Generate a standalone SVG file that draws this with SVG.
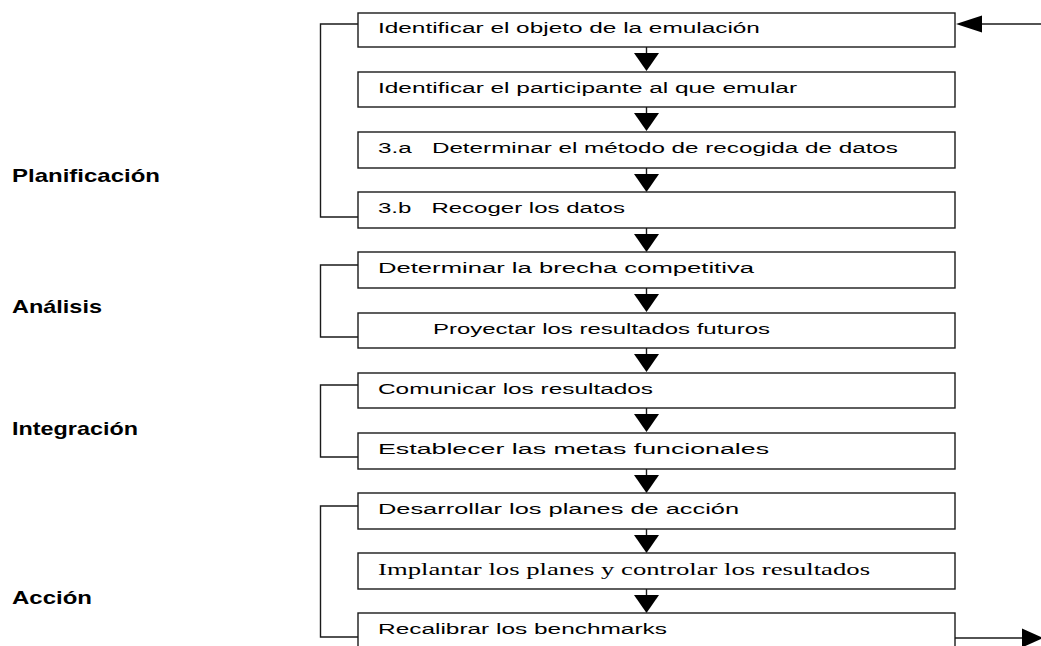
<svg xmlns="http://www.w3.org/2000/svg" width="1041" height="646" viewBox="0 0 1041 646">
  <style>
    .box { fill: #ffffff; stroke: #1a1a1a; stroke-width: 1.4; }
    .t { font-family: "Liberation Sans", Arial, sans-serif; font-size: 15px; fill: #000; }
    .ts { font-family: "Liberation Serif", "Times New Roman", serif; font-size: 16px; fill: #000; }
    .lbl { font-family: "Liberation Sans", Arial, sans-serif; font-size: 18.5px; font-weight: bold; fill: #000; }
    .ln { fill: none; stroke: #1a1a1a; stroke-width: 1.4; }
    .head { fill: #000; stroke: none; }
  </style>
  <defs>
    <!-- downward arrow between consecutive steps: short stem + filled triangle -->
    <g id="down">
      <line x1="0" y1="0" x2="0" y2="6.5" class="ln"/>
      <polygon points="-12.5,6 12.5,6 0,24" class="head"/>
    </g>
  </defs>

  <rect width="1041" height="646" fill="#ffffff"/>

  <!-- phase labels (wide-set type: horizontal scale 1.25) -->
  <g id="phase-planificacion"><text transform="translate(12,182) scale(1.25,1)" class="lbl" textLength="118.4" lengthAdjust="spacingAndGlyphs">Planificación</text></g>
  <g id="phase-analisis"><text transform="translate(12,312.5) scale(1.25,1)" class="lbl" textLength="72" lengthAdjust="spacingAndGlyphs">Análisis</text></g>
  <g id="phase-integracion"><text transform="translate(12,434.5) scale(1.25,1)" class="lbl" textLength="100.8" lengthAdjust="spacingAndGlyphs">Integración</text></g>
  <g id="phase-accion"><text transform="translate(12,604) scale(1.25,1)" class="lbl" textLength="64" lengthAdjust="spacingAndGlyphs">Acción</text></g>

  <!-- connectors -->
  <g id="connectors">
    <!-- phase brackets -->
    <polyline points="358,24 320.5,24 320.5,217 358,217" class="ln"/>
    <polyline points="358,265 320.5,265 320.5,337 358,337" class="ln"/>
    <polyline points="358,385 320.5,385 320.5,457 358,457" class="ln"/>
    <polyline points="358,506 320.5,506 320.5,637 358,637" class="ln"/>

    <!-- step-to-step arrows -->
    <use href="#down" x="646.5" y="47"/>
    <use href="#down" x="646.5" y="107"/>
    <use href="#down" x="646.5" y="168"/>
    <use href="#down" x="646.5" y="228"/>
    <use href="#down" x="646.5" y="288"/>
    <use href="#down" x="646.5" y="348"/>
    <use href="#down" x="646.5" y="408"/>
    <use href="#down" x="646.5" y="469"/>
    <use href="#down" x="646.5" y="529"/>
    <use href="#down" x="646.5" y="589"/>

    <!-- feedback loop: entry at top, exit at bottom -->
    <line x1="1041" y1="24" x2="980" y2="24" class="ln"/>
    <polygon points="956,24 982,15.5 982,32.5" class="head"/>
    <line x1="955" y1="638" x2="1024" y2="638" class="ln"/>
    <polygon points="1022,628.5 1043,638 1022,647.5" class="head"/>
  </g>

  <!-- steps (step text set wide: horizontal scale 1.45) -->
  <g id="step-1">
    <rect x="358" y="13" width="597" height="34" class="box"/>
    <text transform="translate(378,33) scale(1.45,1)" class="t" textLength="263.4" lengthAdjust="spacingAndGlyphs">Identificar el objeto de la emulación</text>
  </g>
  <g id="step-2">
    <rect x="358" y="72" width="597" height="35" class="box"/>
    <text transform="translate(378,92.5) scale(1.45,1)" class="t" textLength="289" lengthAdjust="spacingAndGlyphs">Identificar el participante al que emular</text>
  </g>
  <g id="step-3a">
    <rect x="358" y="132" width="597" height="36" class="box"/>
    <text transform="translate(378,152.5) scale(1.45,1)" class="t" xml:space="preserve" textLength="358.6" lengthAdjust="spacingAndGlyphs">3.a   Determinar el método de recogida de datos</text>
  </g>
  <g id="step-3b">
    <rect x="358" y="192" width="597" height="36" class="box"/>
    <text transform="translate(378,212.5) scale(1.45,1)" class="t" xml:space="preserve" textLength="170.3" lengthAdjust="spacingAndGlyphs">3.b   Recoger los datos</text>
  </g>
  <g id="step-4">
    <rect x="358" y="252" width="597" height="36" class="box"/>
    <text transform="translate(378,272.5) scale(1.45,1)" class="t" textLength="259.3" lengthAdjust="spacingAndGlyphs">Determinar la brecha competitiva</text>
  </g>
  <g id="step-5">
    <rect x="358" y="313" width="597" height="35" class="box"/>
    <text transform="translate(433,333.5) scale(1.45,1)" class="t" textLength="232.4" lengthAdjust="spacingAndGlyphs">Proyectar los resultados futuros</text>
  </g>
  <g id="step-6">
    <rect x="358" y="373" width="597" height="35" class="box"/>
    <text transform="translate(378,393.5) scale(1.45,1)" class="t" textLength="189.7" lengthAdjust="spacingAndGlyphs">Comunicar los resultados</text>
  </g>
  <g id="step-7">
    <rect x="358" y="433" width="597" height="36" class="box"/>
    <text transform="translate(378,453.5) scale(1.45,1)" class="t" textLength="269.7" lengthAdjust="spacingAndGlyphs">Establecer las metas funcionales</text>
  </g>
  <g id="step-8">
    <rect x="358" y="493" width="597" height="36" class="box"/>
    <text transform="translate(378,513.5) scale(1.45,1)" class="t" textLength="249" lengthAdjust="spacingAndGlyphs">Desarrollar los planes de acción</text>
  </g>
  <g id="step-9">
    <rect x="358" y="553" width="597" height="36" class="box"/>
    <text transform="translate(378,574.5) scale(1.3,1)" class="ts" textLength="378.5" lengthAdjust="spacingAndGlyphs">Implantar los planes y controlar los resultados</text>
  </g>
  <g id="step-10">
    <rect x="358" y="613" width="597" height="45" class="box"/>
    <text transform="translate(378,633.5) scale(1.45,1)" class="t" textLength="199.3" lengthAdjust="spacingAndGlyphs">Recalibrar los benchmarks</text>
  </g>
</svg>
